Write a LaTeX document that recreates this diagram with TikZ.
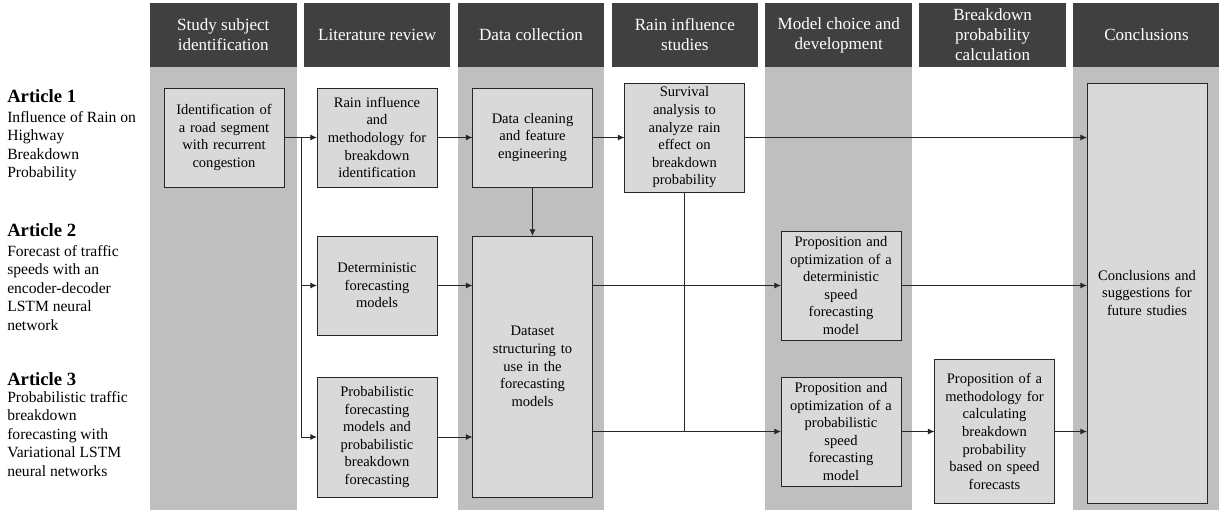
\documentclass[tikz,border=0pt]{standalone}
\usepackage{fontspec}
\setmainfont{Liberation Serif}
\usepackage{xcolor}
\usetikzlibrary{positioning,arrows.meta}

\definecolor{hdrgray}{HTML}{404040}
\definecolor{colgray}{HTML}{BFBFBF}
\definecolor{boxgray}{HTML}{D9D9D9}
\definecolor{linegray}{HTML}{262626}

\begin{document}
\begin{tikzpicture}[
    x=0.75pt,y=-0.75pt,
    hdr/.style={fill=hdrgray,text=white,align=center,minimum width=109.9pt,minimum height=48pt,inner sep=0pt,outer sep=0pt,font=\fontsize{12.8}{15}\selectfont},
    box/.style={draw=linegray,line width=0.75pt,fill=boxgray,align=center,text width=90pt,inner sep=0pt,outer sep=0pt,font=\fontsize{10.9}{13.2}\selectfont},
    art/.style={anchor=base west,inner sep=0pt,font=\fontsize{14}{16}\selectfont\bfseries},
    artdesc/.style={anchor=north west,inner sep=0pt,align=left,font=\fontsize{11.7}{13.9}\selectfont},
    arr/.style={draw=linegray,line width=0.75pt,-{Latex[length=5pt,width=4.5pt]}},
    link/.style={draw=linegray,line width=0.75pt},
    node distance=5.5pt
  ]
    \useasboundingbox (0,0) rectangle (1219,510);

    % column headers
    \node[hdr] (h1) at (223.25,35) {Study subject\\identification};
    \node[hdr,right=of h1] (h2) {Literature review};
    \node[hdr,right=of h2] (h3) {Data collection};
    \node[hdr,right=of h3] (h4) {Rain influence\\studies};
    \node[hdr,right=of h4] (h5) {Model choice and\\development};
    \node[hdr,right=of h5] (h6) {Breakdown\\probability\\calculation};
    \node[hdr,right=of h6] (h7) {Conclusions};

    % shaded columns
    \fill[colgray] (h1.south west) rectangle (h1.east |- 0,510);
    \fill[colgray] (h3.south west) rectangle (h3.east |- 0,510);
    \fill[colgray] (h5.south west) rectangle (h5.east |- 0,510);
    \fill[colgray] (h7.south west) rectangle (h7.east |- 0,510);

    % articles
    \node[art] (a1) at (7,102) {Article 1};
    \node[artdesc] (a1d) at (7,111) {Influence of Rain on\\Highway\\Breakdown\\Probability};
    \node[art] (a2) at (7,236) {Article 2};
    \node[artdesc] (a2d) at (7,245) {Forecast of traffic\\speeds with an\\encoder-decoder\\LSTM neural\\network};
    \node[art] (a3) at (7,385) {Article 3};
    \node[artdesc] (a3d) at (7,391) {Probabilistic traffic\\breakdown\\forecasting with\\Variational LSTM\\neural networks};

    % steps
    \node[box,minimum height=74.25pt] (b1) at (224,137.5) {Identification of\\a road segment\\with recurrent\\congestion};
    \node[box,minimum height=74.25pt] (b2) at (377,137.5) {Rain influence\\and\\methodology for\\breakdown\\identification};
    \node[box,minimum height=74.25pt] (b3) at (532.5,137.5) {Data cleaning\\and feature\\engineering};
    \node[box,minimum height=81.75pt] (b4) at (684.5,137.5) {Survival\\analysis to\\analyze rain\\effect on\\breakdown\\probability};
    \node[box,minimum height=74.25pt] (b5) at (377,285.5) {Deterministic\\forecasting\\models};
    \node[box,minimum height=90pt] (b6) at (377,437) {Probabilistic\\forecasting\\models and\\probabilistic\\breakdown\\forecasting};
    \node[box,minimum height=195.75pt] (b7) at (532.5,366.5) {Dataset\\structuring to\\use in the\\forecasting\\models};
    \node[box,minimum height=81.75pt] (b8) at (841,285.5) {Proposition and\\optimization of a\\deterministic\\speed\\forecasting\\model};
    \node[box,minimum height=81.75pt] (b9) at (841,431.5) {Proposition and\\optimization of a\\probabilistic\\speed\\forecasting\\model};
    \node[box,minimum height=108pt] (b10) at (994.5,431.5) {Proposition of a\\methodology for\\calculating\\breakdown\\probability\\based on speed\\forecasts};
    \node[box,minimum height=315pt] (b11) at (1147,293) {Conclusions and\\suggestions for\\future studies};

    % connectors
    \coordinate (split) at (301,137.5);
    \draw[arr] (b1) -- (b2);
    \draw[arr] (split) |- (b5);
    \draw[arr] (split) |- (b6);
    \draw[arr] (b2) -- (b3);
    \draw[arr] (b3) -- (b4);
    \draw[arr] (b3) -- (b7);
    \draw[arr] (b4.east) -- (b4.east -| b11.west);
    \draw[arr] (b5) -- (b5 -| b7.west);
    \draw[arr] (b6) -- (b6 -| b7.west);
    \draw[arr] (b8 -| b7.east) -- (b8);
    \draw[arr] (b9 -| b7.east) -- (b9);
    \draw[link] (b4) -- (b4 |- b9);
    \draw[arr] (b8) -- (b8 -| b11.west);
    \draw[arr] (b9) -- (b10);
    \draw[arr] (b10) -- (b10 -| b11.west);
  \end{tikzpicture}
\end{document}
